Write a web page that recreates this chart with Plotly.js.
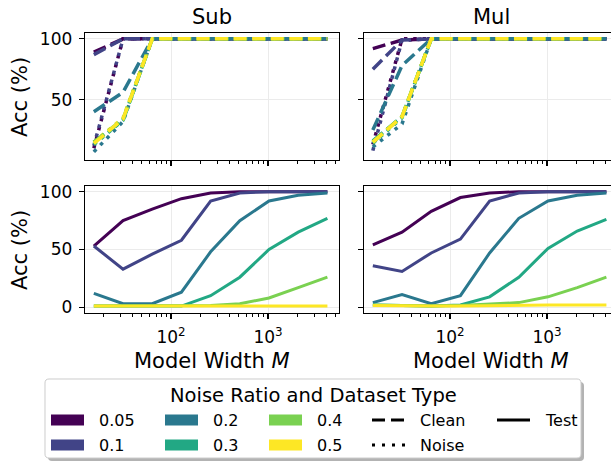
<!DOCTYPE html>
<html><head><meta charset="utf-8">
<script src="https://cdn.plot.ly/plotly-3.0.1.min.js"></script>
<style>html,body{margin:0;padding:0;background:#fff;}#chart{width:611px;height:461px;}</style>
</head><body><div id="chart"></div>
<script>
// ---------------- data ----------------
const widths = [16, 32, 64, 128, 256, 512, 1024, 2048, 4096];
const ratios = ['0.05', '0.1', '0.2', '0.3', '0.4', '0.5'];
const colors = ['#440154', '#414487', '#2a788e', '#22a884', '#7ad151', '#fde725'];
const typeLabels = ['Clean', 'Noise', 'Test'];
const panelTitles = ['Sub', 'Mul'];
const xTickVals = [100, 1000];
const xTickText = ['10<sup>2</sup>', '10<sup>3</sup>'];

// Sub: train accuracy on clean / noisy samples (rows = noise ratio)
const subClean = [
  [89, 100, 100, 100, 100, 100, 100, 100, 100],
  [87, 100, 100, 100, 100, 100, 100, 100, 100],
  [40, 56, 100, 100, 100, 100, 100, 100, 100],
  [15, 33, 100, 100, 100, 100, 100, 100, 100],
  [15, 34, 100, 100, 100, 100, 100, 100, 100],
  [14, 34, 100, 100, 100, 100, 100, 100, 100]
];
const subNoise = [
  [10, 100, 100, 100, 100, 100, 100, 100, 100],
  [12, 100, 100, 100, 100, 100, 100, 100, 100],
  [7, 32, 100, 100, 100, 100, 100, 100, 100],
  [13, 33, 100, 100, 100, 100, 100, 100, 100],
  [14, 34, 100, 100, 100, 100, 100, 100, 100],
  [15, 35, 100, 100, 100, 100, 100, 100, 100]
];
// Mul: train accuracy on clean / noisy samples
const mulClean = [
  [92, 99, 100, 100, 100, 100, 100, 100, 100],
  [75, 99, 100, 100, 100, 100, 100, 100, 100],
  [25, 78, 100, 100, 100, 100, 100, 100, 100],
  [16, 36, 100, 100, 100, 100, 100, 100, 100],
  [15, 36, 100, 100, 100, 100, 100, 100, 100],
  [15, 36, 100, 100, 100, 100, 100, 100, 100]
];
const mulNoise = [
  [13, 100, 100, 100, 100, 100, 100, 100, 100],
  [8, 99, 100, 100, 100, 100, 100, 100, 100],
  [11, 30, 100, 100, 100, 100, 100, 100, 100],
  [14, 35, 100, 100, 100, 100, 100, 100, 100],
  [15, 36, 100, 100, 100, 100, 100, 100, 100],
  [15, 36, 100, 100, 100, 100, 100, 100, 100]
];
// Test accuracy
const subTest = [
  [53, 75, 85, 94, 99, 100, 100, 100, 100],
  [53, 33, 46, 58, 92, 99, 100, 100, 100],
  [12, 3, 3, 13, 48, 75, 92, 97, 99],
  [1, 1, 1, 1, 10, 26, 50, 65, 77],
  [1, 1, 1, 1, 1.5, 3, 8, 17, 26],
  [1, 1, 1, 1, 1, 1, 1, 1, 1]
];
const mulTest = [
  [54, 65, 83, 95, 99, 100, 100, 100, 100],
  [36, 31, 47, 59, 92, 99, 100, 100, 100],
  [4, 11, 3, 10, 47, 77, 92, 97, 99],
  [2, 1.5, 1, 2, 9, 26, 51, 66, 76],
  [2, 1.5, 1, 1.5, 2.5, 4, 9, 17, 26],
  [1.5, 1, 1, 1, 1.5, 1.5, 2, 2, 2]
];

// ---------------- geometry ----------------
const W = 611, H = 461, ML = 85, MR = 0, MT = 33, MB = 148;
const PW = W - ML - MR, PH = H - MT - MB;
const px = x => (x - ML) / PW;
const py = y => (H - MB - y) / PH;
const FONT = 'DejaVu Sans, sans-serif';
const DASH = '13px,5.6px';
const DOT = '3.5px,5.8px';

const minorVals = [];
[10, 100, 1000].forEach(d => { for (let k = 2; k <= 9; k++) minorVals.push(k * d); });

// ---------------- traces ----------------
const traces = [];
function addSet(data, xa, ya, dash, width) {
  data.forEach((vals, i) => {
    traces.push({
      type: 'scatter', mode: 'lines', x: widths, y: vals, xaxis: xa, yaxis: ya,
      line: {color: colors[i], width: width, dash: dash}, showlegend: false, hoverinfo: 'skip'
    });
  });
}
addSet(subNoise, 'x', 'y', DOT, 3.5);
addSet(subClean, 'x', 'y', DASH, 3.5);
addSet(mulNoise, 'x2', 'y2', DOT, 3.5);
addSet(mulClean, 'x2', 'y2', DASH, 3.5);
addSet(subTest, 'x3', 'y3', 'solid', 3);
addSet(mulTest, 'x4', 'y4', 'solid', 3);

// ---------------- axes ----------------
const xRangeL = [1.113, 3.732];
const pxPerDec = 254 / (xRangeL[1] - xRangeL[0]);
const xRangeR = [1.113, 1.113 + 247 / pxPerDec];
function xax(domain, range, anchor, labels) {
  return {
    type: 'log', domain, range, anchor, showline: true, mirror: true, linecolor: '#000', linewidth: 1.3,
    ticks: 'outside', ticklen: 5, tickwidth: 1.3, tickcolor: '#000',
    tickmode: 'array', tickvals: xTickVals, ticktext: xTickText, showticklabels: labels,
    tickfont: {size: 17, color: '#000', family: FONT}, ticklabelstandoff: 3,
    showgrid: true, gridcolor: '#ebebeb', gridwidth: 1, zeroline: false,
    minor: {ticks: 'outside', ticklen: 3, tickwidth: 1, tickcolor: '#000', tickmode: 'array', tickvals: minorVals, showgrid: false},
    fixedrange: true
  };
}
function yax(domain, range, anchor, labels, vals) {
  return {
    domain, range, anchor, showline: true, mirror: true, linecolor: '#000', linewidth: 1.3,
    ticks: 'outside', ticklen: 5, tickwidth: 1.3, tickcolor: '#000',
    tickmode: 'array', tickvals: vals, showticklabels: labels,
    tickfont: {size: 17, color: '#000', family: FONT}, ticklabelstandoff: 3,
    showgrid: true, gridcolor: '#ebebeb', gridwidth: 1, zeroline: false, fixedrange: true
  };
}
const dL = [0, 254 / PW], dR = [279 / PW, 1];
const dT = [py(160), 1], dB = [0, py(186)];

// ---------------- annotations & legend ----------------
const ann = [];
const shapes = [];
function text(t, x, y, size, opts) {
  ann.push(Object.assign({text: t, x: px(x), y: py(y), xref: 'paper', yref: 'paper', showarrow: false,
    xanchor: 'center', yanchor: 'middle', font: {size: size, color: '#000', family: FONT}}, opts || {}));
}
text(panelTitles[0], 212, 17, 21);
text(panelTitles[1], 491, 17, 21);
text('Acc (%)', 20, 97, 21, {textangle: -90});
text('Acc (%)', 20, 250, 21, {textangle: -90});
text('Model Width <i>M</i>', 212, 361, 21);
text('Model Width <i>M</i>', 491, 361, 21);

function rr(x0, y0, x1, y1, r) {
  const P = (x, y) => px(x).toFixed(5) + ',' + py(y).toFixed(5);
  return 'M' + P(x0 + r, y0) + ' L' + P(x1 - r, y0) + ' Q' + P(x1, y0) + ' ' + P(x1, y0 + r) +
    ' L' + P(x1, y1 - r) + ' Q' + P(x1, y1) + ' ' + P(x1 - r, y1) + ' L' + P(x0 + r, y1) +
    ' Q' + P(x0, y1) + ' ' + P(x0, y1 - r) + ' L' + P(x0, y0 + r) + ' Q' + P(x0, y0) + ' ' + P(x0 + r, y0) + ' Z';
}
const LB = {x0: 45, y0: 379, x1: 581, y1: 458};
shapes.push({type: 'path', xref: 'paper', yref: 'paper', path: rr(LB.x0 + 3, LB.y0 + 3, LB.x1 + 3, LB.y1 + 3, 4),
  fillcolor: '#b3b3b3', line: {width: 0}});
shapes.push({type: 'path', xref: 'paper', yref: 'paper', path: rr(LB.x0, LB.y0, LB.x1, LB.y1, 4),
  fillcolor: '#ffffff', line: {color: '#cccccc', width: 1}});
text('Noise Ratio and Dataset Type', 313, 395, 19.5);

const rowsY = [420, 445];
const colPatchX = [51, 165, 269];
ratios.forEach((r, i) => {
  const col = Math.floor(i / 2), row = i % 2;
  const x0 = colPatchX[col], yc = rowsY[row];
  shapes.push({type: 'rect', xref: 'paper', yref: 'paper', x0: px(x0), x1: px(x0 + 33), y0: py(yc - 5.6), y1: py(yc + 5.6),
    fillcolor: colors[i], line: {width: 0}});
  text(r, x0 + 46, yc, 16, {xanchor: 'left'});
});
const styleItems = [
  {label: typeLabels[0], dash: '13px,6px', x: 372, row: 0},
  {label: typeLabels[1], dash: '3px,7px', x: 372, row: 1},
  {label: typeLabels[2], dash: 'solid', x: 497, row: 0}
];
styleItems.forEach(s => {
  const yc = rowsY[s.row];
  shapes.push({type: 'line', xref: 'paper', yref: 'paper', x0: px(s.x), x1: px(s.x + 33), y0: py(yc), y1: py(yc),
    line: {color: '#000', width: 3, dash: s.dash}});
  text(s.label, s.x + 46, yc, 16, {xanchor: 'left'});
});

const layout = {
  width: W, height: H, margin: {l: ML, r: MR, t: MT, b: MB, pad: 0},
  paper_bgcolor: '#fff', plot_bgcolor: '#fff', showlegend: false, hovermode: false,
  font: {family: FONT, color: '#000'},
  xaxis: xax(dL, xRangeL, 'y', false),
  xaxis2: xax(dR, xRangeR, 'y2', false),
  xaxis3: xax(dL, xRangeL, 'y3', true),
  xaxis4: xax(dR, xRangeR, 'y4', true),
  yaxis: yax(dT, [0.3, 104.8], 'x', true, [50, 100]),
  yaxis2: yax(dT, [0.3, 104.8], 'x2', false, [50, 100]),
  yaxis3: yax(dB, [-5, 105], 'x3', true, [0, 50, 100]),
  yaxis4: yax(dB, [-5, 105], 'x4', false, [0, 50, 100]),
  annotations: ann, shapes: shapes
};
Plotly.newPlot('chart', traces, layout, {staticPlot: true, displayModeBar: false}).then(gd => {
  // drop empty placeholder text nodes (unused axis titles)
  gd.querySelectorAll('text').forEach(t => { if (!t.textContent.trim()) t.remove(); });
});
</script></body></html>
